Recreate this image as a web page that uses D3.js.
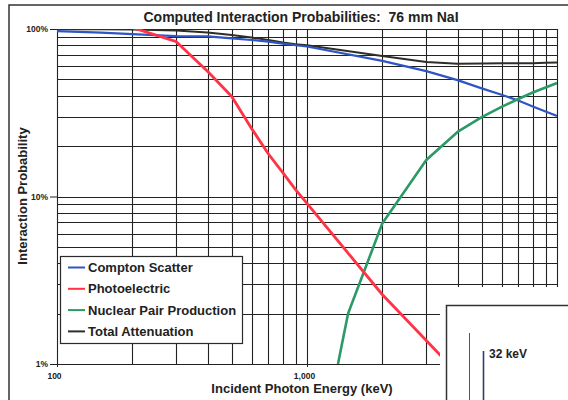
<!DOCTYPE html>
<html>
<head>
<meta charset="utf-8">
<script src="https://cdn.jsdelivr.net/npm/d3@7"></script>
<style>
  body { margin: 0; background: #fff; }
  svg { display: block; font-family: "Liberation Sans", Arial, sans-serif; }
</style>
</head>
<body>
<div id="chart"></div>
<script>
// values (energy in keV, probability in %)
const energies = [100, 150, 200, 300, 400, 500, 600, 700, 800, 900, 1000, 2000, 3000, 4000, 5000, 6000, 7000, 8000, 9000, 10000];
const compton = [97, 95.2, 93.2, 90.7, 90.3, 88, 86, 84, 81.8, 80, 78.6, 64.5, 56, 49.5, 44.2, 40.5, 37.4, 34.5, 32.2, 30.3];
const total = [99.6, 99.5, 99.2, 97.8, 95.2, 92, 89, 86, 83, 81.2, 80, 69, 63.5, 62, 62.3, 62.5, 62.5, 62.4, 62.8, 63.2];

const photoEnergies = [200, 300, 400, 500, 600, 700, 800, 900, 1000, 2000, 3000, 4000];
const photoelectric = [102, 84, 56, 39.5, 25.5, 18, 13.9, 11, 9.1, 2.6, 1.38, 0.88];

const pairEnergies = [1330, 1460, 2000, 3000, 4000, 5000, 6000, 7000, 8000, 9000, 10000];
const pairProduction = [1.0, 2.0, 6.9, 16.5, 24.3, 29.8, 34.3, 38.2, 41.8, 44.7, 47.6];

const seriesNames = ["Compton Scatter", "Photoelectric", "Nuclear Pair Production", "Total Attenuation"];
const xTickValues = [100, 1000];
const xTickLabels = ["100", "1,000"];
const yTickValues = [1, 10, 100];
const yTickLabels = ["1%", "10%", "100%"];

const width = 568;
const height = 400;
const plot = { left: 57, right: 557, top: 29, bottom: 364 };

const svg = d3.select("#chart")
  .append("svg")
  .attr("width", width)
  .attr("height", height);

svg.append("rect").attr("width", width).attr("height", height).attr("fill", "#fff");

const x = d3.scaleLog().domain([100, 10000]).range([plot.left, plot.right]);
const y = d3.scaleLog().domain([1, 100]).range([plot.bottom, plot.top]);

// outer frame of the scanned figure (top and left edges only are visible)
svg.append("path")
  .attr("d", `M9,400V5H568`)
  .attr("fill", "none")
  .attr("stroke", "#333")
  .attr("stroke-width", 1.5);

// title (keeps the double space)
svg.append("text")
  .attr("x", 301)
  .attr("y", 22)
  .attr("text-anchor", "middle")
  .attr("font-size", 14)
  .attr("font-weight", "bold")
  .attr("fill", "#222")
  .style("white-space", "pre")
  .text("Computed Interaction Probabilities:  76 mm NaI");

// gridlines at every log minor step
const xGrid = d3.range(100, 1000, 100).concat(d3.range(1000, 10001, 1000));
const yGrid = d3.range(1, 10, 1).concat(d3.range(10, 101, 10));

const grid = svg.append("g").attr("stroke", "#222").attr("stroke-width", 1.1);
grid.selectAll(".vgrid")
  .data(xGrid)
  .enter()
  .append("line")
  .attr("x1", (d) => Math.round(x(d)) + 0.5)
  .attr("x2", (d) => Math.round(x(d)) + 0.5)
  .attr("y1", plot.top)
  .attr("y2", plot.bottom);
grid.selectAll(".hgrid")
  .data(yGrid)
  .enter()
  .append("line")
  .attr("x1", plot.left)
  .attr("x2", plot.right)
  .attr("y1", (d) => Math.round(y(d)) + 0.5)
  .attr("y2", (d) => Math.round(y(d)) + 0.5);

// y axis ticks + labels
const yAxis = svg.append("g")
  .attr("transform", `translate(${plot.left},0)`)
  .call(
    d3.axisLeft(y)
      .tickValues(yTickValues)
      .tickFormat((d, i) => yTickLabels[i])
      .tickSize(7)
      .tickPadding(2)
  );
yAxis.select(".domain").attr("stroke", "#222");
yAxis.selectAll("line").attr("stroke", "#222");
yAxis.selectAll("text")
  .attr("font-size", 8.5)
  .attr("font-weight", "bold")
  .attr("font-family", "Liberation Sans, Arial, sans-serif")
  .attr("fill", "#222");

// x axis labels
const xAxis = svg.append("g")
  .attr("transform", `translate(0,${plot.bottom})`)
  .call(
    d3.axisBottom(x)
      .tickValues(xTickValues)
      .tickFormat((d, i) => xTickLabels[i])
      .tickSize(3)
      .tickPadding(6)
  );
xAxis.select(".domain").remove();
xAxis.selectAll("line").attr("stroke", "#222");
xAxis.selectAll("text")
  .attr("dx", -3)
  .attr("font-size", 8.5)
  .attr("font-weight", "bold")
  .attr("font-family", "Liberation Sans, Arial, sans-serif")
  .attr("fill", "#222");

// axis titles
svg.append("text")
  .attr("x", 302)
  .attr("y", 393)
  .attr("text-anchor", "middle")
  .attr("font-size", 13)
  .attr("font-weight", "bold")
  .attr("fill", "#222")
  .text("Incident Photon Energy (keV)");

svg.append("text")
  .attr("transform", "translate(27,196) rotate(-90)")
  .attr("text-anchor", "middle")
  .attr("font-size", 13)
  .attr("font-weight", "bold")
  .attr("fill", "#222")
  .text("Interaction Probability");

// data lines
svg.append("clipPath")
  .attr("id", "plot-clip")
  .append("rect")
  .attr("x", plot.left)
  .attr("y", plot.top)
  .attr("width", plot.right - plot.left)
  .attr("height", plot.bottom - plot.top);

const series = [
  { name: seriesNames[3], xs: energies, ys: total, color: "#2e2e28", w: 2 },
  { name: seriesNames[0], xs: energies, ys: compton, color: "#2f55c4", w: 2.2 },
  { name: seriesNames[2], xs: pairEnergies, ys: pairProduction, color: "#2b9a66", w: 2.6 },
  { name: seriesNames[1], xs: photoEnergies, ys: photoelectric, color: "#ff3344", w: 2.8 }
];

const line = d3.line()
  .x((d) => x(d[0]))
  .y((d) => y(d[1]));

svg.append("g")
  .attr("clip-path", "url(#plot-clip)")
  .selectAll("path")
  .data(series)
  .enter()
  .append("path")
  .attr("d", (s) => line(d3.zip(s.xs, s.ys)))
  .attr("fill", "none")
  .attr("stroke", (s) => s.color)
  .attr("stroke-width", (s) => s.w)
  .attr("stroke-linejoin", "round");

// legend
const legendOrder = [1, 3, 2, 0];
const legend = svg.append("g").attr("transform", "translate(60,256)");
legend.append("rect")
  .attr("x", 0.5)
  .attr("y", 0.5)
  .attr("width", 182)
  .attr("height", 87)
  .attr("fill", "#fff")
  .attr("stroke", "#2a2a2a")
  .attr("stroke-width", 1.2);

const items = legend.selectAll(".item")
  .data(legendOrder.map((i) => series[i]))
  .enter()
  .append("g")
  .attr("transform", (d, i) => `translate(0,${11.5 + i * 21.3})`);
items.append("line")
  .attr("x1", 8)
  .attr("x2", 25)
  .attr("stroke", (d) => d.color)
  .attr("stroke-width", 2);
items.append("text")
  .attr("x", 28)
  .attr("dy", "0.35em")
  .attr("font-size", 13)
  .attr("font-weight", "bold")
  .attr("fill", "#222")
  .text((d) => d.name);

// overlapping piece of the neighbouring figure in the scan (lower right)
svg.append("rect")
  .attr("x", 440)
  .attr("y", 287)
  .attr("width", 130)
  .attr("height", 115)
  .attr("fill", "#fff");
svg.append("path")
  .attr("d", "M446.5,400V305.5H568")
  .attr("fill", "none")
  .attr("stroke", "#333")
  .attr("stroke-width", 1.5);
svg.append("line")
  .attr("x1", 469.5).attr("x2", 469.5)
  .attr("y1", 333).attr("y2", 400)
  .attr("stroke", "#555")
  .attr("stroke-width", 1);
svg.append("line")
  .attr("x1", 483.5).attr("x2", 483.5)
  .attr("y1", 351).attr("y2", 400)
  .attr("stroke", "#2c3d66")
  .attr("stroke-width", 1.6);
svg.append("text")
  .attr("x", 489)
  .attr("y", 358)
  .attr("font-size", 12)
  .attr("font-weight", "bold")
  .attr("fill", "#222")
  .text("32 keV");
</script>
</body>
</html>
